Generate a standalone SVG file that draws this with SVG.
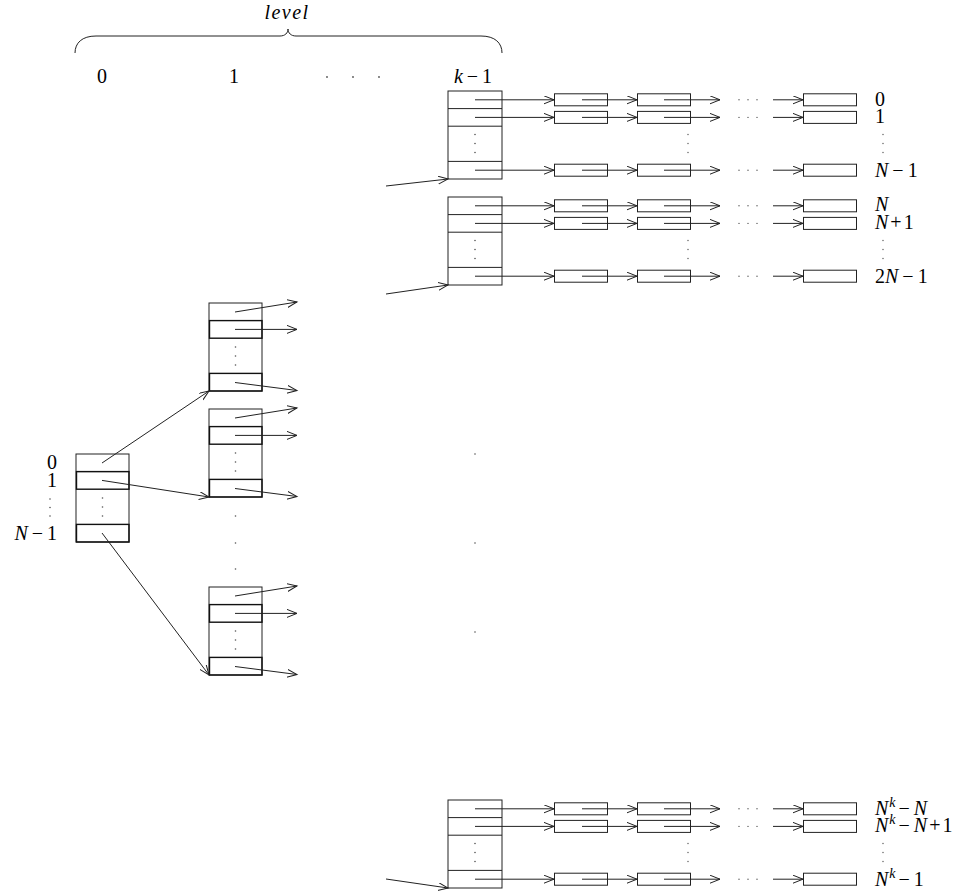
<svg xmlns="http://www.w3.org/2000/svg" width="972" height="896" viewBox="0 0 972 896">
<style>
.nd{fill:#fff;stroke:#222;stroke-width:1}
.rl{fill:none;stroke:#222;stroke-width:1}
.hr{fill:none;stroke:#111;stroke-width:1.4}
.bx{fill:#fff;stroke:#222;stroke-width:1}
.ar{fill:none;stroke:#222;stroke-width:1;marker-end:url(#ah)}
.dt{fill:#555}
text{font-family:"Liberation Serif","Times New Roman",serif;font-size:20px;fill:#000}
.i{font-style:italic}
.sup{font-size:14px;font-style:italic}
</style>
<defs>
<marker id="ah" markerUnits="userSpaceOnUse" markerWidth="12" markerHeight="10" refX="10" refY="4" orient="auto" viewBox="0 0 12 10">
<path d="M0,0 L10,4 L0,8" fill="none" stroke="#222" stroke-width="1"/>
</marker>
</defs>
<rect width="972" height="896" fill="#fff"/>

<!-- header -->
<g id="header">
<text x="287" y="19" class="i" text-anchor="middle" font-size="18" letter-spacing="1.5">level</text>
<path d="M75,53 C75,43 82,36 96,36 L280,36 C285,36 288,33 288,29 C288,33 291,36 296,36 L481,36 C495,36 502,43 502,53" fill="none" stroke="#222" stroke-width="1"/>
<text x="102" y="83" text-anchor="middle">0</text>
<text x="234" y="83" text-anchor="middle">1</text>
<circle class="dt" cx="327" cy="77" r="0.9"/><circle class="dt" cx="353" cy="77" r="0.9"/><circle class="dt" cx="379" cy="77" r="0.9"/>
<text x="473" y="83" text-anchor="middle"><tspan class="i">k</tspan><tspan dx="4">−</tspan><tspan dx="4">1</tspan></text>
</g>

<!-- level 0 node -->
<g id="level0">
<rect class="nd" x="76" y="454" width="53" height="88"/>
<line class="rl" x1="76" y1="471.6" x2="129" y2="471.6"/>
<rect class="hr" x="76.5" y="471.6" width="52.5" height="17.6"/>
<rect class="hr" x="76.5" y="524.4" width="52.5" height="17.6"/>
<circle class="dt" cx="102.5" cy="498" r="0.8"/><circle class="dt" cx="102.5" cy="507" r="0.8"/><circle class="dt" cx="102.5" cy="516" r="0.8"/>
<text x="57" y="469" text-anchor="end">0</text>
<text x="57" y="487" text-anchor="end">1</text>
<circle class="dt" cx="50" cy="499" r="0.8"/><circle class="dt" cx="50" cy="507.5" r="0.8"/><circle class="dt" cx="50" cy="516" r="0.8"/>
<text x="57" y="540" text-anchor="end"><tspan class="i">N</tspan><tspan dx="4">−</tspan><tspan dx="4">1</tspan></text>
</g>

<!-- level 1 nodes -->
<g id="level1-a">
<rect class="nd" x="209" y="303" width="53" height="88"/>
<rect class="hr" x="209.5" y="320.6" width="52.5" height="17.6"/>
<rect class="hr" x="209.5" y="373.4" width="52.5" height="17.6"/>
<circle class="dt" cx="235.5" cy="347" r="0.8"/><circle class="dt" cx="235.5" cy="356" r="0.8"/><circle class="dt" cx="235.5" cy="365" r="0.8"/>
</g>
<g id="level1-b">
<rect class="nd" x="209" y="409" width="53" height="88"/>
<rect class="hr" x="209.5" y="426.6" width="52.5" height="17.6"/>
<rect class="hr" x="209.5" y="479.4" width="52.5" height="17.6"/>
<circle class="dt" cx="235.5" cy="453" r="0.8"/><circle class="dt" cx="235.5" cy="462" r="0.8"/><circle class="dt" cx="235.5" cy="471" r="0.8"/>
</g>
<g id="level1-dots">
<circle class="dt" cx="235.5" cy="516" r="0.8"/><circle class="dt" cx="235.5" cy="543" r="0.8"/><circle class="dt" cx="235.5" cy="569" r="0.8"/>
</g>
<g id="level1-c">
<rect class="nd" x="209" y="587" width="53" height="88"/>
<rect class="hr" x="209.5" y="604.6" width="52.5" height="17.6"/>
<rect class="hr" x="209.5" y="657.4" width="52.5" height="17.6"/>
<circle class="dt" cx="235.5" cy="631" r="0.8"/><circle class="dt" cx="235.5" cy="640" r="0.8"/><circle class="dt" cx="235.5" cy="649" r="0.8"/>
</g>

<g id="middle-dots">
<circle class="dt" cx="475" cy="454" r="0.8"/><circle class="dt" cx="475" cy="543" r="0.8"/><circle class="dt" cx="475" cy="632" r="0.8"/>
</g>

<!-- level k-1 nodes -->
<g id="levelk-a">
<rect class="nd" x="448" y="91" width="54" height="88"/>
<line class="rl" x1="448" y1="108.6" x2="502" y2="108.6"/>
<line class="rl" x1="448" y1="126.2" x2="502" y2="126.2"/>
<line class="rl" x1="448" y1="161.4" x2="502" y2="161.4"/>
<circle class="dt" cx="475" cy="134.5" r="0.8"/><circle class="dt" cx="475" cy="143.5" r="0.8"/><circle class="dt" cx="475" cy="152.5" r="0.8"/>
</g>
<g id="levelk-b">
<rect class="nd" x="448" y="197" width="54" height="88"/>
<line class="rl" x1="448" y1="214.6" x2="502" y2="214.6"/>
<line class="rl" x1="448" y1="232.2" x2="502" y2="232.2"/>
<line class="rl" x1="448" y1="267.4" x2="502" y2="267.4"/>
<circle class="dt" cx="475" cy="240.5" r="0.8"/><circle class="dt" cx="475" cy="249.5" r="0.8"/><circle class="dt" cx="475" cy="258.5" r="0.8"/>
</g>
<g id="levelk-c">
<rect class="nd" x="448" y="800" width="54" height="88"/>
<line class="rl" x1="448" y1="817.6" x2="502" y2="817.6"/>
<line class="rl" x1="448" y1="835.2" x2="502" y2="835.2"/>
<line class="rl" x1="448" y1="870.4" x2="502" y2="870.4"/>
<circle class="dt" cx="475" cy="843.5" r="0.8"/><circle class="dt" cx="475" cy="852.5" r="0.8"/><circle class="dt" cx="475" cy="861.5" r="0.8"/>
</g>

<!-- list boxes block A -->
<g id="a0-1"><rect class="bx" x="554.5" y="93.8" width="53" height="12"/></g>
<g id="a0-2"><rect class="bx" x="637.5" y="93.8" width="53" height="12"/></g>
<g id="a0-n"><rect class="bx" x="803.5" y="93.8" width="53" height="12"/></g>
<g id="a1-1"><rect class="bx" x="554.5" y="111.4" width="53" height="12"/></g>
<g id="a1-2"><rect class="bx" x="637.5" y="111.4" width="53" height="12"/></g>
<g id="a1-n"><rect class="bx" x="803.5" y="111.4" width="53" height="12"/></g>
<g id="a2-1"><rect class="bx" x="554.5" y="164.2" width="53" height="12"/></g>
<g id="a2-2"><rect class="bx" x="637.5" y="164.2" width="53" height="12"/></g>
<g id="a2-n"><rect class="bx" x="803.5" y="164.2" width="53" height="12"/></g>
<!-- block B -->
<g id="b0-1"><rect class="bx" x="554.5" y="199.8" width="53" height="12"/></g>
<g id="b0-2"><rect class="bx" x="637.5" y="199.8" width="53" height="12"/></g>
<g id="b0-n"><rect class="bx" x="803.5" y="199.8" width="53" height="12"/></g>
<g id="b1-1"><rect class="bx" x="554.5" y="217.4" width="53" height="12"/></g>
<g id="b1-2"><rect class="bx" x="637.5" y="217.4" width="53" height="12"/></g>
<g id="b1-n"><rect class="bx" x="803.5" y="217.4" width="53" height="12"/></g>
<g id="b2-1"><rect class="bx" x="554.5" y="270.2" width="53" height="12"/></g>
<g id="b2-2"><rect class="bx" x="637.5" y="270.2" width="53" height="12"/></g>
<g id="b2-n"><rect class="bx" x="803.5" y="270.2" width="53" height="12"/></g>
<!-- block C -->
<g id="c0-1"><rect class="bx" x="554.5" y="802.8" width="53" height="12"/></g>
<g id="c0-2"><rect class="bx" x="637.5" y="802.8" width="53" height="12"/></g>
<g id="c0-n"><rect class="bx" x="803.5" y="802.8" width="53" height="12"/></g>
<g id="c1-1"><rect class="bx" x="554.5" y="820.4" width="53" height="12"/></g>
<g id="c1-2"><rect class="bx" x="637.5" y="820.4" width="53" height="12"/></g>
<g id="c1-n"><rect class="bx" x="803.5" y="820.4" width="53" height="12"/></g>
<g id="c2-1"><rect class="bx" x="554.5" y="873.2" width="53" height="12"/></g>
<g id="c2-2"><rect class="bx" x="637.5" y="873.2" width="53" height="12"/></g>
<g id="c2-n"><rect class="bx" x="803.5" y="873.2" width="53" height="12"/></g>

<!-- dots between list columns -->
<g id="list-dots">
<circle class="dt" cx="739" cy="99.8" r="0.7"/><circle class="dt" cx="748" cy="99.8" r="0.7"/><circle class="dt" cx="757" cy="99.8" r="0.7"/>
<circle class="dt" cx="739" cy="117.4" r="0.7"/><circle class="dt" cx="748" cy="117.4" r="0.7"/><circle class="dt" cx="757" cy="117.4" r="0.7"/>
<circle class="dt" cx="739" cy="170.2" r="0.7"/><circle class="dt" cx="748" cy="170.2" r="0.7"/><circle class="dt" cx="757" cy="170.2" r="0.7"/>
<circle class="dt" cx="739" cy="205.8" r="0.7"/><circle class="dt" cx="748" cy="205.8" r="0.7"/><circle class="dt" cx="757" cy="205.8" r="0.7"/>
<circle class="dt" cx="739" cy="223.4" r="0.7"/><circle class="dt" cx="748" cy="223.4" r="0.7"/><circle class="dt" cx="757" cy="223.4" r="0.7"/>
<circle class="dt" cx="739" cy="276.2" r="0.7"/><circle class="dt" cx="748" cy="276.2" r="0.7"/><circle class="dt" cx="757" cy="276.2" r="0.7"/>
<circle class="dt" cx="739" cy="808.8" r="0.7"/><circle class="dt" cx="748" cy="808.8" r="0.7"/><circle class="dt" cx="757" cy="808.8" r="0.7"/>
<circle class="dt" cx="739" cy="826.4" r="0.7"/><circle class="dt" cx="748" cy="826.4" r="0.7"/><circle class="dt" cx="757" cy="826.4" r="0.7"/>
<circle class="dt" cx="739" cy="879.2" r="0.7"/><circle class="dt" cx="748" cy="879.2" r="0.7"/><circle class="dt" cx="757" cy="879.2" r="0.7"/>
<circle class="dt" cx="688" cy="134.5" r="0.7"/><circle class="dt" cx="688" cy="143.5" r="0.7"/><circle class="dt" cx="688" cy="152.5" r="0.7"/>
<circle class="dt" cx="688" cy="240.5" r="0.7"/><circle class="dt" cx="688" cy="249.5" r="0.7"/><circle class="dt" cx="688" cy="258.5" r="0.7"/>
<circle class="dt" cx="688" cy="843.5" r="0.7"/><circle class="dt" cx="688" cy="852.5" r="0.7"/><circle class="dt" cx="688" cy="861.5" r="0.7"/>
<circle class="dt" cx="883" cy="134.5" r="0.7"/><circle class="dt" cx="883" cy="143.5" r="0.7"/><circle class="dt" cx="883" cy="152.5" r="0.7"/>
<circle class="dt" cx="883" cy="240.5" r="0.7"/><circle class="dt" cx="883" cy="249.5" r="0.7"/><circle class="dt" cx="883" cy="258.5" r="0.7"/>
<circle class="dt" cx="883" cy="843.5" r="0.7"/><circle class="dt" cx="883" cy="852.5" r="0.7"/><circle class="dt" cx="883" cy="861.5" r="0.7"/>
</g>

<!-- row labels -->
<g id="labels">
<text x="875" y="105.5">0</text>
<text x="875" y="123">1</text>
<text x="875" y="176.5"><tspan class="i">N</tspan><tspan dx="4">−</tspan><tspan dx="4">1</tspan></text>
<text x="875" y="211"><tspan class="i">N</tspan></text>
<text x="875" y="228.5"><tspan class="i">N</tspan><tspan dx="2">+</tspan><tspan dx="2">1</tspan></text>
<text x="875" y="282.5">2<tspan class="i">N</tspan><tspan dx="4">−</tspan><tspan dx="4">1</tspan></text>
<text x="875" y="815"><tspan class="i">N</tspan><tspan class="sup" dy="-8" dx="1">k</tspan><tspan dy="8" dx="3">−</tspan><tspan class="i" dx="4">N</tspan></text>
<text x="875" y="832"><tspan class="i">N</tspan><tspan class="sup" dy="-8" dx="1">k</tspan><tspan dy="8" dx="3">−</tspan><tspan class="i" dx="4">N</tspan><tspan dx="2">+</tspan><tspan dx="2">1</tspan></text>
<text x="875" y="885.5"><tspan class="i">N</tspan><tspan class="sup" dy="-8" dx="1">k</tspan><tspan dy="8" dx="3">−</tspan><tspan dx="4">1</tspan></text>
</g>

<!-- connectors -->
<g id="connectors">
<path class="ar" d="M102,463 L209,391"/>
<path class="ar" d="M102,480.4 L209,497"/>
<path class="ar" d="M102,533 L209,675"/>
<path class="ar" d="M235,312 L297,302"/>
<path class="ar" d="M235,329.4 L297,329.4"/>
<path class="ar" d="M235,382.5 L297,390.5"/>
<path class="ar" d="M235,418 L297,408"/>
<path class="ar" d="M235,435.4 L297,435.4"/>
<path class="ar" d="M235,488.5 L297,496.5"/>
<path class="ar" d="M235,596 L297,586"/>
<path class="ar" d="M235,613.4 L297,613.4"/>
<path class="ar" d="M235,666.5 L297,674.5"/>
<path class="ar" d="M386,186 L448,179"/>
<path class="ar" d="M386,294 L448,285"/>
<path class="ar" d="M386,879 L448,888"/>
<path class="ar" d="M475,99.8 H554"/><path class="ar" d="M582,99.8 H637"/><path class="ar" d="M664,99.8 H720"/><path class="ar" d="M773,99.8 H803"/>
<path class="ar" d="M475,117.4 H554"/><path class="ar" d="M582,117.4 H637"/><path class="ar" d="M664,117.4 H720"/><path class="ar" d="M773,117.4 H803"/>
<path class="ar" d="M475,170.2 H554"/><path class="ar" d="M582,170.2 H637"/><path class="ar" d="M664,170.2 H720"/><path class="ar" d="M773,170.2 H803"/>
<path class="ar" d="M475,205.8 H554"/><path class="ar" d="M582,205.8 H637"/><path class="ar" d="M664,205.8 H720"/><path class="ar" d="M773,205.8 H803"/>
<path class="ar" d="M475,223.4 H554"/><path class="ar" d="M582,223.4 H637"/><path class="ar" d="M664,223.4 H720"/><path class="ar" d="M773,223.4 H803"/>
<path class="ar" d="M475,276.2 H554"/><path class="ar" d="M582,276.2 H637"/><path class="ar" d="M664,276.2 H720"/><path class="ar" d="M773,276.2 H803"/>
<path class="ar" d="M475,808.8 H554"/><path class="ar" d="M582,808.8 H637"/><path class="ar" d="M664,808.8 H720"/><path class="ar" d="M773,808.8 H803"/>
<path class="ar" d="M475,826.4 H554"/><path class="ar" d="M582,826.4 H637"/><path class="ar" d="M664,826.4 H720"/><path class="ar" d="M773,826.4 H803"/>
<path class="ar" d="M475,879.2 H554"/><path class="ar" d="M582,879.2 H637"/><path class="ar" d="M664,879.2 H720"/><path class="ar" d="M773,879.2 H803"/>
</g>
</svg>
